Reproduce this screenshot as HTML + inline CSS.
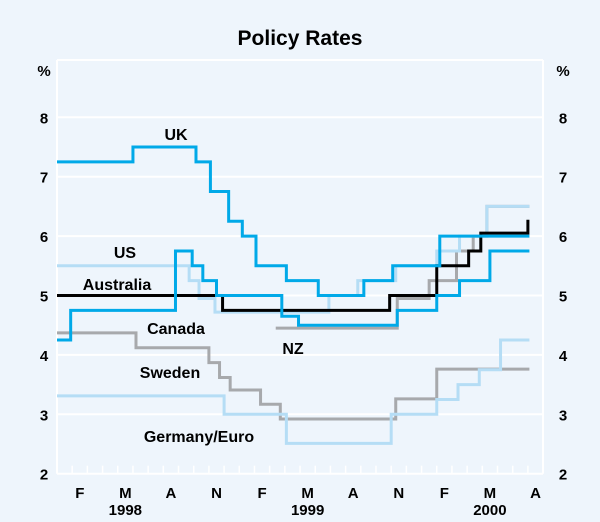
<!DOCTYPE html>
<html><head><meta charset="utf-8"><style>
body{margin:0;background:#eef5fc;}
svg{display:block;font-family:"Liberation Sans",Arial,sans-serif;}
</style></head><body>
<svg id="c" width="600" height="522" viewBox="0 0 600 522">
<rect x="0" y="0" width="600" height="522" fill="#eef5fc"/>
<text x="300" y="45" text-anchor="middle" font-size="21" font-weight="bold">Policy Rates</text>
<text x="44" y="76" text-anchor="middle" font-size="15" font-weight="bold">%</text>
<text x="563" y="76" text-anchor="middle" font-size="15" font-weight="bold">%</text>
<g id="grid"></g><g id="lines"></g><g id="labels"></g>
</svg>
<script>
const yTicks=[2,3,4,5,6,7,8];
const xLabels=["F","M","A","N","F","M","A","N","F","M","A"];
const xLabelMonths=[1,4,7,10,13,16,19,22,25,28,31];
const years=["1998","1999","2000"];
const yearMonths=[4,16,28];
const ukT=[0,5.0,9.15,10.1,11.3,12.2,13.1,15.1,17.2,20.2,22.1,25.2,31.1];
const ukV=[7.25,7.5,7.25,6.75,6.25,6.0,5.5,5.25,5.0,5.25,5.5,6.0,6.0];
const caT=[0,0.9,7.8,8.9,9.6,10.5,14.8,15.9,22.4,25.0,26.5,28.5,31.1];
const caV=[4.25,4.75,5.75,5.5,5.25,5.0,4.65,4.5,4.75,5.0,5.25,5.75,5.75];
const usT=[0,8.7,9.35,10.4,17.9,19.8,22.3,25.0,26.5,28.3,31.1];
const usV=[5.5,5.25,4.95,4.72,5.0,5.25,5.5,5.75,6.0,6.5,6.5];
const auT=[0,10.9,21.9,25.0,27.1,27.9,31.0,31.1];
const auV=[5.0,4.75,5.0,5.5,5.75,6.05,6.25,6.25];
const nzT=[14.4,22.4,24.5,26.3,27.4,28.3,31.1];
const nzV=[4.45,4.95,5.25,5.75,6.0,6.5,6.5];
const swT=[0,5.2,10.0,10.7,11.4,13.4,14.7,22.3,25.0,31.1];
const swV=[4.37,4.12,3.87,3.62,3.41,3.17,2.92,3.26,3.76,3.76];
const geT=[0,11.0,15.1,22.0,25.0,26.4,27.8,29.2,31.1];
const geV=[3.31,3.0,2.51,3.0,3.25,3.5,3.75,4.25,4.25];
const NS="http://www.w3.org/2000/svg";
const X0=57,X1=543,MW=15.19,YB=473.7,YU=59.4,YT=60;
const xs=t=>X0+t*MW, ys=v=>YB-(v-2)*YU;
function mk(tag,at,parent){const e=document.createElementNS(NS,tag);for(const k in at)e.setAttribute(k,at[k]);parent.appendChild(e);return e;}
const grid=document.getElementById('grid'),lines=document.getElementById('lines'),labels=document.getElementById('labels');
const topFrame=mk('line',{x1:X0,x2:X1,y1:YT,y2:YT,stroke:'#fff','stroke-width':2},grid);


yTicks.forEach(v=>{
 const l=mk('line',{x1:X0,x2:X1,y1:ys(v),y2:ys(v),stroke:'#fff','stroke-width':2},grid);
 
 
 const a=mk('text',{x:44,y:ys(v)+6,'text-anchor':'middle','font-size':15,'font-weight':'bold'},grid);a.textContent=v;
 
 
 const b=mk('text',{x:563,y:ys(v)+6,'text-anchor':'middle','font-size':15,'font-weight':'bold'},grid);b.textContent=v;
 
 
});
[X0,X1].forEach((x,i)=>{const l=mk('line',{x1:x,x2:x,y1:YT,y2:YB,stroke:'#fff','stroke-width':2},grid);
 
 });
for(let m=1;m<32;m++){const t=mk('line',{x1:xs(m),x2:xs(m),y1:YB-8,y2:YB,stroke:'#fff','stroke-width':1.5},grid);
 
 }
xLabels.forEach((s,i)=>{const t=mk('text',{x:xs(xLabelMonths[i]+0.5),y:498,'text-anchor':'middle','font-size':15,'font-weight':'bold'},labels);t.textContent=s;
 
 });
years.forEach((s,i)=>{const t=mk('text',{x:xs(yearMonths[i]+0.5),y:515,'text-anchor':'middle','font-size':15,'font-weight':'bold'},labels);t.textContent=s;
 
 });
function step(T,V,color,w,name){
 let d='M'+xs(T[0])+','+ys(V[0]);
 for(let i=1;i<T.length;i++){d+=' H'+xs(T[i])+' V'+ys(V[i]);}
 const p=mk('path',{d:d,fill:'none',stroke:color,'stroke-width':w},lines);
 
 
}
step(nzT,nzV,'#a7a9ac',3,'nz-line');
step(swT,swV,'#a7a9ac',3,'sweden-line');
step(geT,geV,'#b5ddf5',3,'germany-euro-line');
step(usT,usV,'#b5ddf5',3,'us-line');
step(auT,auV,'#000',3,'australia-line');
step(caT,caV,'#00a9e8',3,'canada-line');
step(ukT,ukV,'#00a9e8',3,'uk-line');
const lab=[["UK",176,140],["US",125,258],["Australia",117,290],["Canada",176,334],["NZ",293,354],["Sweden",170,378],["Germany/Euro",199,442]];
lab.forEach(a=>{const t=mk('text',{x:a[1],y:a[2],'text-anchor':'middle','font-size':16,'font-weight':'bold'},labels);t.textContent=a[0];
 
 });
</script>
</body></html>
